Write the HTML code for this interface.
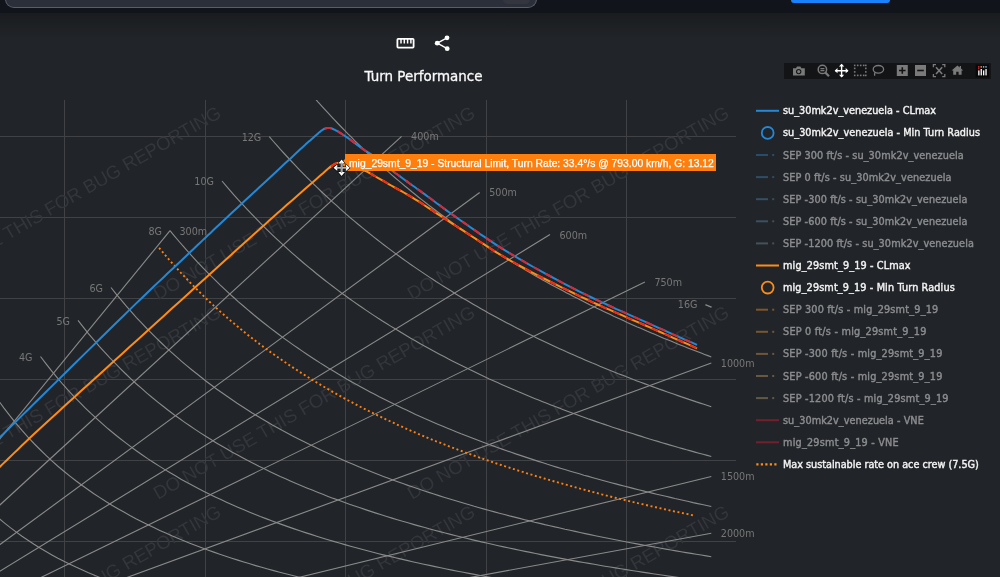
<!DOCTYPE html>
<html><head><meta charset="utf-8"><title>Turn Performance</title>
<style>
html,body{margin:0;padding:0;}
body{width:1000px;height:577px;overflow:hidden;position:relative;background:#212428;font-family:"DejaVu Sans",Verdana,sans-serif;}
.topbar{position:absolute;left:0;top:0;width:1000px;height:13px;background:#12141c;border-bottom:0px solid #1e2129;}
.shadow{position:absolute;left:0;top:13px;width:1000px;height:26px;background:linear-gradient(to bottom,rgba(0,0,0,0.22),rgba(0,0,0,0));}
.topbox{position:absolute;left:5px;top:-11px;width:530px;height:18px;border:1px solid #595e6a;border-top:none;border-radius:0 0 9px 9px;background:#2b2f3a;}
.pill{position:absolute;left:503px;top:-5.5px;width:27px;height:9px;border-radius:5px;background:#33363e;}
.bluebtn{position:absolute;left:791px;top:-6px;width:99px;height:9px;border-radius:3px;background:#1a80fb;}
.chart{position:absolute;left:0;top:0;}
.legend{position:absolute;left:740px;top:90px;}
.title{position:absolute;left:0;top:68.5px;-webkit-text-stroke:0.3px #fafafa;width:847px;text-align:center;color:#fafafa;font-size:13.45px;line-height:16px;}
.tip{position:absolute;left:345px;top:154.2px;width:371px;height:16.9px;background:#ff7f0e;}
.tiptext{position:absolute;left:349px;top:155.6px;color:#fff;font-family:"Liberation Sans",Arial,sans-serif;font-size:10.33px;line-height:15px;white-space:nowrap;-webkit-text-stroke:0.25px #fff;}
.modebar{position:absolute;left:784px;top:63px;width:207px;height:15.6px;background:#131416;}
</style></head>
<body>
<div class="shadow"></div>
<div class="topbar"></div>
<div class="topbox"></div>
<div class="pill"></div>
<div class="bluebtn"></div>

<svg class="chart" width="1000" height="577" viewBox="0 0 1000 577">
  <defs><clipPath id="pc"><rect x="0" y="100" width="736" height="477"/></clipPath></defs>
  <g clip-path="url(#pc)">
    <g stroke="#404246" stroke-width="1" shape-rendering="crispEdges"><line x1="64.5" y1="100" x2="64.5" y2="577"/><line x1="205" y1="100" x2="205" y2="577"/><line x1="345.5" y1="100" x2="345.5" y2="577"/><line x1="486" y1="100" x2="486" y2="577"/><line x1="626.5" y1="100" x2="626.5" y2="577"/><line x1="0" y1="136.5" x2="736" y2="136.5"/><line x1="0" y1="217.5" x2="736" y2="217.5"/><line x1="0" y1="298.5" x2="736" y2="298.5"/><line x1="0" y1="379.5" x2="736" y2="379.5"/><line x1="0" y1="460.5" x2="736" y2="460.5"/><line x1="0" y1="541.5" x2="736" y2="541.5"/></g>
    <g fill="#33363b" font-family="Liberation Sans, Arial, sans-serif" font-size="18.6"><text transform="translate(-96,300.4) rotate(-30)">DO NOT USE THIS FOR BUG REPORTING</text><text transform="translate(158,300.4) rotate(-30)">DO NOT USE THIS FOR BUG REPORTING</text><text transform="translate(412,300.4) rotate(-30)">DO NOT USE THIS FOR BUG REPORTING</text><text transform="translate(-96,499.9) rotate(-30)">DO NOT USE THIS FOR BUG REPORTING</text><text transform="translate(158,499.9) rotate(-30)">DO NOT USE THIS FOR BUG REPORTING</text><text transform="translate(412,499.9) rotate(-30)">DO NOT USE THIS FOR BUG REPORTING</text><text transform="translate(-96,699.4) rotate(-30)">DO NOT USE THIS FOR BUG REPORTING</text><text transform="translate(158,699.4) rotate(-30)">DO NOT USE THIS FOR BUG REPORTING</text><text transform="translate(412,699.4) rotate(-30)">DO NOT USE THIS FOR BUG REPORTING</text></g>
    <g stroke="#8a8a8a" stroke-width="1.12" fill="none"><polyline points="-2,517.6 4,522.6 10,527.4 16,531.9 22,536.2 28,540.3 34,544.3 40,548 46,551.5 51.9,554.9 57.9,558.2 63.9,561.3 69.9,564.2 75.9,567.1 81.9,569.8 87.9,572.5 93.9,575 99.9,577.4 105.9,579.8 111.9,582 117.9,584.2 123.9,586.3 129.9,588.3 135.9,590.3 141.9,592.2 147.9,594 153.8,595.8 159.8,597.5 165.8,599.2 171.8,600.8 177.8,602.4 183.8,603.9 189.8,605.3 195.8,606.8 201.8,608.1 207.8,609.5 213.8,610.8 219.8,612.1 225.8,613.3 231.8,614.5 237.8,615.7 243.8,616.8 249.8,618 255.7,619 261.7,620.1 267.7,621.1 273.7,622.1 279.7,623.1 285.7,624.1 291.7,625 297.7,625.9 303.7,626.8 309.7,627.7 315.7,628.6 321.7,629.4 327.7,630.2 333.7,631 339.7,631.8 345.7,632.5 351.7,633.3 357.6,634 363.6,634.7 369.6,635.5 375.6,636.1 381.6,636.8 387.6,637.5 393.6,638.1 399.6,638.8 405.6,639.4 411.6,640 417.6,640.6 423.6,641.2 429.6,641.8 435.6,642.3 441.6,642.9 447.6,643.4 453.6,644 459.5,644.5 465.5,645 471.5,645.5 477.5,646 483.5,646.5 489.5,647 495.5,647.5 501.5,647.9 507.5,648.4 513.5,648.9 519.5,649.3 525.5,649.7 531.5,650.2 537.5,650.6 543.5,651 549.5,651.4 555.5,651.8 561.4,652.2 567.4,652.6 573.4,653 579.4,653.4 585.4,653.8 591.4,654.1 597.4,654.5 603.4,654.9 609.4,655.2 615.4,655.6 621.4,655.9 627.4,656.2 633.4,656.6 639.4,656.9 645.4,657.2 651.4,657.5 657.4,657.9 663.3,658.2 669.3,658.5 675.3,658.8 681.3,659.1 687.3,659.4 693.3,659.7 699.3,659.9 705.3,660.2 711.3,660.5"/><polyline points="-2,399.9 4,408.1 10,415.9 16,423.3 22,430.4 28,437.1 34,443.5 40,449.5 46,455.3 51.9,460.9 57.9,466.2 63.9,471.2 69.9,476.1 75.9,480.8 81.9,485.2 87.9,489.5 93.9,493.7 99.9,497.6 105.9,501.5 111.9,505.2 117.9,508.7 123.9,512.1 129.9,515.5 135.9,518.7 141.9,521.7 147.9,524.7 153.8,527.6 159.8,530.4 165.8,533.1 171.8,535.8 177.8,538.3 183.8,540.8 189.8,543.2 195.8,545.5 201.8,547.8 207.8,550 213.8,552.1 219.8,554.2 225.8,556.2 231.8,558.2 237.8,560.1 243.8,562 249.8,563.8 255.7,565.6 261.7,567.3 267.7,569 273.7,570.6 279.7,572.2 285.7,573.8 291.7,575.3 297.7,576.8 303.7,578.3 309.7,579.7 315.7,581.1 321.7,582.5 327.7,583.8 333.7,585.1 339.7,586.4 345.7,587.6 351.7,588.9 357.6,590.1 363.6,591.2 369.6,592.4 375.6,593.5 381.6,594.6 387.6,595.7 393.6,596.7 399.6,597.8 405.6,598.8 411.6,599.8 417.6,600.8 423.6,601.7 429.6,602.7 435.6,603.6 441.6,604.5 447.6,605.4 453.6,606.3 459.5,607.2 465.5,608 471.5,608.8 477.5,609.7 483.5,610.5 489.5,611.2 495.5,612 501.5,612.8 507.5,613.5 513.5,614.3 519.5,615 525.5,615.7 531.5,616.4 537.5,617.1 543.5,617.8 549.5,618.5 555.5,619.1 561.4,619.8 567.4,620.4 573.4,621 579.4,621.7 585.4,622.3 591.4,622.9 597.4,623.5 603.4,624.1 609.4,624.6 615.4,625.2 621.4,625.8 627.4,626.3 633.4,626.9 639.4,627.4 645.4,627.9 651.4,628.4 657.4,629 663.3,629.5 669.3,630 675.3,630.5 681.3,631 687.3,631.4 693.3,631.9 699.3,632.4 705.3,632.8 711.3,633.3"/><polyline points="40.5,356.5 46.1,363.9 51.8,371.1 57.4,377.9 63,384.5 68.7,390.8 74.3,396.8 80,402.7 85.6,408.3 91.2,413.7 96.9,418.9 102.5,423.9 108.1,428.8 113.8,433.5 119.4,438 125.1,442.4 130.7,446.6 136.3,450.7 142,454.7 147.6,458.6 153.2,462.3 158.9,465.9 164.5,469.4 170.2,472.8 175.8,476.1 181.4,479.4 187.1,482.5 192.7,485.5 198.3,488.5 204,491.4 209.6,494.2 215.2,496.9 220.9,499.6 226.5,502.2 232.2,504.7 237.8,507.2 243.4,509.6 249.1,511.9 254.7,514.2 260.3,516.5 266,518.6 271.6,520.8 277.3,522.9 282.9,524.9 288.5,526.9 294.2,528.9 299.8,530.8 305.4,532.6 311.1,534.4 316.7,536.2 322.3,538 328,539.7 333.6,541.4 339.3,543 344.9,544.6 350.5,546.2 356.2,547.8 361.8,549.3 367.4,550.8 373.1,552.2 378.7,553.7 384.4,555.1 390,556.4 395.6,557.8 401.3,559.1 406.9,560.4 412.5,561.7 418.2,563 423.8,564.2 429.5,565.4 435.1,566.6 440.7,567.8 446.4,569 452,570.1 457.6,571.2 463.3,572.3 468.9,573.4 474.5,574.4 480.2,575.5 485.8,576.5 491.5,577.5 497.1,578.5 502.7,579.5 508.4,580.5 514,581.4 519.6,582.3 525.3,583.3 530.9,584.2 536.6,585.1 542.2,585.9 547.8,586.8 553.5,587.7 559.1,588.5 564.7,589.3 570.4,590.2 576,591 581.6,591.8 587.3,592.5 592.9,593.3 598.6,594.1 604.2,594.8 609.8,595.6 615.5,596.3 621.1,597 626.7,597.7 632.4,598.4 638,599.1 643.7,599.8 649.3,600.5 654.9,601.2 660.6,601.8 666.2,602.5 671.8,603.1 677.5,603.7 683.1,604.4 688.8,605 694.4,605.6 700,606.2 705.7,606.8 711.3,607.4"/><polyline points="78,320.4 83.3,327.2 88.6,333.8 94,340.1 99.3,346.3 104.6,352.2 109.9,357.9 115.3,363.4 120.6,368.8 125.9,374 131.2,379.1 136.5,384 141.9,388.7 147.2,393.3 152.5,397.8 157.8,402.1 163.1,406.3 168.5,410.5 173.8,414.5 179.1,418.3 184.4,422.1 189.8,425.8 195.1,429.4 200.4,432.9 205.7,436.3 211,439.6 216.4,442.9 221.7,446 227,449.1 232.3,452.2 237.7,455.1 243,458 248.3,460.8 253.6,463.5 258.9,466.2 264.3,468.8 269.6,471.4 274.9,473.9 280.2,476.4 285.6,478.8 290.9,481.2 296.2,483.5 301.5,485.7 306.8,487.9 312.2,490.1 317.5,492.2 322.8,494.3 328.1,496.4 333.4,498.4 338.8,500.3 344.1,502.3 349.4,504.2 354.7,506 360.1,507.8 365.4,509.6 370.7,511.4 376,513.1 381.3,514.8 386.7,516.5 392,518.1 397.3,519.7 402.6,521.3 408,522.8 413.3,524.4 418.6,525.9 423.9,527.3 429.2,528.8 434.6,530.2 439.9,531.6 445.2,533 450.5,534.4 455.9,535.7 461.2,537 466.5,538.3 471.8,539.6 477.1,540.9 482.5,542.1 487.8,543.3 493.1,544.5 498.4,545.7 503.7,546.9 509.1,548 514.4,549.1 519.7,550.3 525,551.4 530.4,552.4 535.7,553.5 541,554.6 546.3,555.6 551.6,556.6 557,557.6 562.3,558.6 567.6,559.6 572.9,560.6 578.3,561.6 583.6,562.5 588.9,563.4 594.2,564.3 599.5,565.3 604.9,566.2 610.2,567 615.5,567.9 620.8,568.8 626.2,569.6 631.5,570.5 636.8,571.3 642.1,572.1 647.4,572.9 652.8,573.7 658.1,574.5 663.4,575.3 668.7,576.1 674,576.8 679.4,577.6 684.7,578.3 690,579.1 695.3,579.8 700.7,580.5 706,581.2 711.3,581.9"/><polyline points="111,287.5 116,293.8 121.1,299.9 126.1,305.9 131.2,311.7 136.2,317.3 141.3,322.7 146.3,328 151.4,333.2 156.4,338.2 161.4,343 166.5,347.8 171.5,352.4 176.6,356.9 181.6,361.3 186.7,365.6 191.7,369.8 196.8,373.8 201.8,377.8 206.8,381.7 211.9,385.5 216.9,389.2 222,392.8 227,396.3 232.1,399.8 237.1,403.2 242.2,406.5 247.2,409.7 252.2,412.9 257.3,416 262.3,419 267.4,422 272.4,424.9 277.5,427.7 282.5,430.5 287.6,433.2 292.6,435.9 297.6,438.5 302.7,441.1 307.7,443.6 312.8,446.1 317.8,448.5 322.9,450.9 327.9,453.3 333,455.6 338,457.8 343,460 348.1,462.2 353.1,464.3 358.2,466.4 363.2,468.5 368.3,470.5 373.3,472.5 378.4,474.5 383.4,476.4 388.4,478.3 393.5,480.2 398.5,482 403.6,483.8 408.6,485.6 413.7,487.3 418.7,489 423.8,490.7 428.8,492.4 433.9,494 438.9,495.6 443.9,497.2 449,498.8 454,500.3 459.1,501.8 464.1,503.3 469.2,504.8 474.2,506.3 479.3,507.7 484.3,509.1 489.3,510.5 494.4,511.9 499.4,513.2 504.5,514.5 509.5,515.9 514.6,517.1 519.6,518.4 524.7,519.7 529.7,520.9 534.7,522.2 539.8,523.4 544.8,524.6 549.9,525.7 554.9,526.9 560,528 565,529.2 570.1,530.3 575.1,531.4 580.1,532.5 585.2,533.6 590.2,534.6 595.3,535.7 600.3,536.7 605.4,537.7 610.4,538.7 615.5,539.7 620.5,540.7 625.5,541.7 630.6,542.7 635.6,543.6 640.7,544.6 645.7,545.5 650.8,546.4 655.8,547.3 660.9,548.2 665.9,549.1 670.9,550 676,550.9 681,551.7 686.1,552.6 691.1,553.4 696.2,554.2 701.2,555 706.3,555.9 711.3,556.7"/><polyline points="170,230.6 174.5,236.1 179.1,241.5 183.6,246.7 188.2,251.9 192.7,256.9 197.3,261.8 201.8,266.6 206.4,271.3 210.9,275.9 215.5,280.4 220,284.8 224.6,289.1 229.1,293.3 233.7,297.5 238.2,301.6 242.8,305.5 247.3,309.4 251.9,313.3 256.4,317 261,320.7 265.5,324.3 270.1,327.9 274.6,331.3 279.2,334.7 283.7,338.1 288.3,341.4 292.8,344.6 297.4,347.8 301.9,350.9 306.5,354 311,357 315.6,360 320.1,362.9 324.7,365.7 329.2,368.6 333.8,371.3 338.3,374.1 342.9,376.7 347.4,379.4 351.9,382 356.5,384.5 361,387 365.6,389.5 370.1,391.9 374.7,394.3 379.2,396.7 383.8,399 388.3,401.3 392.9,403.6 397.4,405.8 402,408 406.5,410.1 411.1,412.3 415.6,414.4 420.2,416.4 424.7,418.5 429.3,420.5 433.8,422.4 438.4,424.4 442.9,426.3 447.5,428.2 452,430.1 456.6,431.9 461.1,433.8 465.7,435.6 470.2,437.3 474.8,439.1 479.3,440.8 483.9,442.5 488.4,444.2 493,445.9 497.5,447.5 502.1,449.1 506.6,450.7 511.2,452.3 515.7,453.9 520.3,455.4 524.8,456.9 529.4,458.4 533.9,459.9 538.4,461.4 543,462.8 547.5,464.3 552.1,465.7 556.6,467.1 561.2,468.5 565.7,469.8 570.3,471.2 574.8,472.5 579.4,473.8 583.9,475.2 588.5,476.4 593,477.7 597.6,479 602.1,480.2 606.7,481.5 611.2,482.7 615.8,483.9 620.3,485.1 624.9,486.3 629.4,487.4 634,488.6 638.5,489.7 643.1,490.9 647.6,492 652.2,493.1 656.7,494.2 661.3,495.3 665.8,496.3 670.4,497.4 674.9,498.5 679.5,499.5 684,500.5 688.6,501.5 693.1,502.6 697.7,503.6 702.2,504.5 706.8,505.5 711.3,506.5"/><polyline points="222,181 226.1,185.8 230.2,190.6 234.3,195.3 238.4,199.9 242.6,204.4 246.7,208.8 250.8,213.2 254.9,217.4 259,221.6 263.1,225.8 267.2,229.8 271.3,233.8 275.5,237.8 279.6,241.6 283.7,245.4 287.8,249.1 291.9,252.8 296,256.4 300.1,260 304.2,263.5 308.3,266.9 312.5,270.3 316.6,273.7 320.7,277 324.8,280.2 328.9,283.4 333,286.5 337.1,289.6 341.2,292.7 345.4,295.7 349.5,298.7 353.6,301.6 357.7,304.5 361.8,307.3 365.9,310.1 370,312.9 374.1,315.6 378.2,318.3 382.4,320.9 386.5,323.5 390.6,326.1 394.7,328.6 398.8,331.1 402.9,333.6 407,336 411.1,338.4 415.3,340.8 419.4,343.2 423.5,345.5 427.6,347.8 431.7,350 435.8,352.2 439.9,354.4 444,356.6 448.1,358.8 452.3,360.9 456.4,363 460.5,365 464.6,367.1 468.7,369.1 472.8,371.1 476.9,373.1 481,375 485.2,376.9 489.3,378.9 493.4,380.7 497.5,382.6 501.6,384.4 505.7,386.2 509.8,388 513.9,389.8 518,391.6 522.2,393.3 526.3,395 530.4,396.7 534.5,398.4 538.6,400.1 542.7,401.7 546.8,403.3 550.9,404.9 555.1,406.5 559.2,408.1 563.3,409.7 567.4,411.2 571.5,412.7 575.6,414.2 579.7,415.7 583.8,417.2 587.9,418.7 592.1,420.1 596.2,421.6 600.3,423 604.4,424.4 608.5,425.8 612.6,427.2 616.7,428.5 620.8,429.9 625,431.2 629.1,432.5 633.2,433.8 637.3,435.1 641.4,436.4 645.5,437.7 649.6,439 653.7,440.2 657.8,441.4 662,442.7 666.1,443.9 670.2,445.1 674.3,446.3 678.4,447.5 682.5,448.6 686.6,449.8 690.7,450.9 694.9,452.1 699,453.2 703.1,454.3 707.2,455.4 711.3,456.5"/><polyline points="269.3,136.7 273,141 276.7,145.2 280.4,149.4 284.2,153.5 287.9,157.5 291.6,161.5 295.3,165.4 299,169.3 302.7,173.1 306.4,176.9 310.2,180.6 313.9,184.3 317.6,187.9 321.3,191.5 325,195 328.7,198.4 332.4,201.9 336.2,205.2 339.9,208.6 343.6,211.8 347.3,215.1 351,218.3 354.7,221.4 358.4,224.5 362.2,227.6 365.9,230.6 369.6,233.6 373.3,236.6 377,239.5 380.7,242.4 384.4,245.3 388.2,248.1 391.9,250.9 395.6,253.6 399.3,256.3 403,259 406.7,261.6 410.4,264.3 414.2,266.9 417.9,269.4 421.6,271.9 425.3,274.4 429,276.9 432.7,279.3 436.4,281.8 440.2,284.1 443.9,286.5 447.6,288.8 451.3,291.1 455,293.4 458.7,295.7 462.4,297.9 466.2,300.1 469.9,302.3 473.6,304.5 477.3,306.6 481,308.7 484.7,310.8 488.4,312.9 492.2,314.9 495.9,316.9 499.6,318.9 503.3,320.9 507,322.9 510.7,324.8 514.4,326.8 518.2,328.7 521.9,330.6 525.6,332.4 529.3,334.3 533,336.1 536.7,337.9 540.4,339.7 544.2,341.5 547.9,343.2 551.6,345 555.3,346.7 559,348.4 562.7,350.1 566.4,351.8 570.2,353.4 573.9,355.1 577.6,356.7 581.3,358.3 585,359.9 588.7,361.5 592.4,363.1 596.2,364.6 599.9,366.2 603.6,367.7 607.3,369.2 611,370.7 614.7,372.2 618.4,373.7 622.2,375.1 625.9,376.6 629.6,378 633.3,379.5 637,380.9 640.7,382.3 644.4,383.6 648.2,385 651.9,386.4 655.6,387.7 659.3,389.1 663,390.4 666.7,391.7 670.4,393 674.2,394.3 677.9,395.6 681.6,396.9 685.3,398.1 689,399.4 692.7,400.6 696.4,401.9 700.2,403.1 703.9,404.3 707.6,405.5 711.3,406.7"/><polyline points="311,93.9 314.4,97.8 317.7,101.6 321.1,105.3 324.5,109.1 327.8,112.7 331.2,116.4 334.5,119.9 337.9,123.5 341.3,127 344.6,130.4 348,133.9 351.4,137.2 354.7,140.6 358.1,143.9 361.5,147.1 364.8,150.3 368.2,153.5 371.5,156.7 374.9,159.8 378.3,162.8 381.6,165.9 385,168.9 388.4,171.9 391.7,174.8 395.1,177.7 398.5,180.6 401.8,183.4 405.2,186.3 408.6,189 411.9,191.8 415.3,194.5 418.6,197.2 422,199.9 425.4,202.5 428.7,205.1 432.1,207.7 435.5,210.3 438.8,212.8 442.2,215.3 445.6,217.8 448.9,220.2 452.3,222.7 455.6,225.1 459,227.5 462.4,229.8 465.7,232.2 469.1,234.5 472.5,236.8 475.8,239 479.2,241.3 482.6,243.5 485.9,245.7 489.3,247.9 492.6,250 496,252.2 499.4,254.3 502.7,256.4 506.1,258.5 509.5,260.5 512.8,262.6 516.2,264.6 519.6,266.6 522.9,268.6 526.3,270.6 529.7,272.5 533,274.5 536.4,276.4 539.7,278.3 543.1,280.2 546.5,282 549.8,283.9 553.2,285.7 556.6,287.5 559.9,289.3 563.3,291.1 566.7,292.9 570,294.6 573.4,296.4 576.7,298.1 580.1,299.8 583.5,301.5 586.8,303.2 590.2,304.9 593.6,306.5 596.9,308.2 600.3,309.8 603.7,311.4 607,313 610.4,314.6 613.7,316.2 617.1,317.7 620.5,319.3 623.8,320.8 627.2,322.4 630.6,323.9 633.9,325.4 637.3,326.9 640.7,328.3 644,329.8 647.4,331.3 650.8,332.7 654.1,334.1 657.5,335.6 660.8,337 664.2,338.4 667.6,339.8 670.9,341.1 674.3,342.5 677.7,343.9 681,345.2 684.4,346.6 687.8,347.9 691.1,349.2 694.5,350.5 697.8,351.8 701.2,353.1 704.6,354.4 707.9,355.6 711.3,356.9"/><polyline points="705.5,304.7 705.5,304.7 705.6,304.7 705.6,304.7 705.7,304.7 705.7,304.8 705.8,304.8 705.8,304.8 705.9,304.8 705.9,304.9 706,304.9 706,304.9 706.1,304.9 706.1,304.9 706.2,305 706.2,305 706.3,305 706.3,305 706.4,305 706.4,305.1 706.5,305.1 706.5,305.1 706.6,305.1 706.6,305.1 706.7,305.2 706.7,305.2 706.8,305.2 706.8,305.2 706.9,305.3 706.9,305.3 707,305.3 707,305.3 707.1,305.3 707.1,305.4 707.2,305.4 707.2,305.4 707.3,305.4 707.3,305.4 707.4,305.5 707.4,305.5 707.4,305.5 707.5,305.5 707.5,305.5 707.6,305.6 707.6,305.6 707.7,305.6 707.7,305.6 707.8,305.7 707.8,305.7 707.9,305.7 707.9,305.7 708,305.7 708,305.8 708.1,305.8 708.1,305.8 708.2,305.8 708.2,305.8 708.3,305.9 708.3,305.9 708.4,305.9 708.4,305.9 708.5,305.9 708.5,306 708.6,306 708.6,306 708.7,306 708.7,306.1 708.8,306.1 708.8,306.1 708.9,306.1 708.9,306.1 709,306.2 709,306.2 709.1,306.2 709.1,306.2 709.2,306.2 709.2,306.3 709.3,306.3 709.3,306.3 709.4,306.3 709.4,306.3 709.4,306.4 709.5,306.4 709.5,306.4 709.6,306.4 709.6,306.4 709.7,306.5 709.7,306.5 709.8,306.5 709.8,306.5 709.9,306.6 709.9,306.6 710,306.6 710,306.6 710.1,306.6 710.1,306.7 710.2,306.7 710.2,306.7 710.3,306.7 710.3,306.7 710.4,306.8 710.4,306.8 710.5,306.8 710.5,306.8 710.6,306.8 710.6,306.9 710.7,306.9 710.7,306.9 710.8,306.9 710.8,306.9 710.9,307 710.9,307 711,307 711,307 711.1,307.1 711.1,307.1 711.2,307.1 711.2,307.1 711.3,307.1 711.3,307.2"/><line x1="-2" y1="441.1" x2="170" y2="230.7"/><line x1="-2" y1="506.7" x2="401.6" y2="136.4"/><line x1="-2" y1="546" x2="479.7" y2="192.5"/><line x1="-2" y1="572.3" x2="550" y2="234.6"/><line x1="-2" y1="598.5" x2="644.9" y2="282"/><line x1="-2" y1="624.8" x2="711.3" y2="363"/><line x1="-2" y1="651" x2="711.3" y2="476.5"/><line x1="-2" y1="664.1" x2="711.3" y2="533.2"/></g>
    <polyline points="159.1,247.8 162.7,252.1 166.3,256.4 169.9,260.5 173.5,264.6 177.1,268.6 180.7,272.6 184.3,276.4 187.9,280.2 191.5,284 195.1,287.6 198.7,291.2 202.3,294.8 205.9,298.3 209.5,301.7 213.1,305.1 216.7,308.4 220.3,311.6 223.9,314.8 227.5,318 231.1,321.1 234.7,324.1 238.3,327.1 241.9,330.1 245.5,333 249.1,335.9 252.7,338.7 256.3,341.5 259.9,344.2 263.5,346.9 267.1,349.6 270.7,352.2 274.3,354.7 277.9,357.3 281.5,359.8 285.1,362.3 288.7,364.7 292.3,367.1 295.9,369.4 299.5,371.8 303.1,374.1 306.7,376.3 310.3,378.6 313.9,380.8 317.5,383 321.1,385.1 324.7,387.2 328.3,389.3 331.9,391.4 335.5,393.4 339.1,395.4 342.7,397.4 346.3,399.4 349.9,401.3 353.5,403.2 357.1,405.1 360.7,407 364.3,408.8 367.9,410.6 371.5,412.4 375.1,414.2 378.7,415.9 382.3,417.6 385.9,419.4 389.5,421 393.1,422.7 396.7,424.4 400.3,426 403.9,427.6 407.5,429.2 411.1,430.8 414.7,432.3 418.3,433.9 421.9,435.4 425.5,436.9 429.1,438.4 432.7,439.8 436.3,441.3 439.9,442.7 443.5,444.2 447.1,445.6 450.7,447 454.3,448.3 457.9,449.7 461.5,451 465.1,452.4 468.7,453.7 472.3,455 475.9,456.3 479.5,457.6 483.1,458.8 486.7,460.1 490.3,461.3 493.9,462.6 497.5,463.8 501.1,465 504.7,466.2 508.3,467.3 511.9,468.5 515.5,469.7 519.1,470.8 522.7,471.9 526.3,473.1 529.9,474.2 533.5,475.3 537.1,476.4 540.7,477.4 544.3,478.5 547.9,479.6 551.5,480.6 555.1,481.7 558.7,482.7 562.3,483.7 565.9,484.7 569.5,485.7 573.1,486.7 576.7,487.7 580.3,488.7 583.9,489.6 587.5,490.6 591.1,491.6 594.7,492.5 598.3,493.4 601.9,494.4 605.5,495.3 609.1,496.2 612.7,497.1 616.3,498 619.9,498.9 623.5,499.7 627.1,500.6 630.7,501.5 634.3,502.3 637.9,503.2 641.5,504 645.1,504.8 648.7,505.7 652.3,506.5 655.9,507.3 659.5,508.1 663.1,508.9 666.7,509.7 670.3,510.5 673.9,511.3 677.5,512 681.1,512.8 684.7,513.6 688.3,514.3 691.9,515.1 695.5,515.8" fill="none" stroke="#ff7f0e" stroke-width="1.9" stroke-dasharray="2 2.6"/>
    <path d="M-2,468.5 L-2,468.5 L-2.2,468.7 L-2.5,469 L-2.9,469.4 L-3.2,469.7 L-3.5,470 L-3.6,470.1 L-3.6,470.1 L-3.2,469.8 L-2.6,469.1 L-1.5,468.1 L0,466.7 L1.8,464.9 L3.9,462.9 L6.2,460.7 L8.7,458.3 L11.4,455.6 L14.5,452.6 L17.9,449.4 L21.6,445.8 L25.6,442 L30,437.8 L34.8,433.3 L40,428.5 L45.7,423.2 L52,417.4 L58.9,411.2 L66.1,404.6 L73.7,397.7 L81.5,390.6 L89.6,383.3 L97.7,375.9 L105.9,368.4 L114.1,361 L122.2,353.7 L130,346.6 L137.9,339.4 L146.1,331.9 L154.6,324.3 L163.2,316.5 L171.8,308.6 L180.3,300.9 L188.8,293.2 L196.9,285.8 L204.8,278.7 L212.2,272 L219.1,265.7 L225.4,260 L231,254.9 L236.1,250.3 L240.6,246.3 L244.7,242.6 L248.4,239.2 L252,236 L255.3,232.9 L258.7,230 L262,227 L265.5,223.9 L269.2,220.6 L273.2,217 L277.6,213.1 L282.3,209 L287.2,204.6 L292.3,200.2 L297.3,195.7 L302.4,191.3 L307.2,187 L311.9,183 L316.2,179.2 L320,175.8 L323.3,173 L326,170.6 L328,168.8 L329.4,167.6 L330.3,166.8 L330.8,166.4 L330.9,166.3 L330.8,166.5 L330.5,166.8 L330.1,167.1 L329.7,167.5 L329.4,167.8 L329.3,167.9 L329.4,167.8 L329.7,167.6 L330,167.3 L330.3,167.1 L330.6,166.8 L330.9,166.6 L331.2,166.3 L331.5,166.1 L331.8,165.9 L332.1,165.6 L332.4,165.4 L332.7,165.2 L333,165 L333.3,164.8 L333.6,164.6 L333.9,164.4 L334.3,164.2 L334.6,164.1 L334.9,163.9 L335.2,163.7 L335.6,163.6 L335.9,163.5 L336.3,163.4 L336.6,163.3 L337,163.2 L337.4,163.1 L337.7,163.1 L338.1,163.1 L338.5,163.1 L338.9,163.1 L339.2,163.1 L339.7,163.1 L340.1,163.2 L340.5,163.3 L341,163.4 L341.5,163.5 L342,163.6 L342.6,163.8 L343.2,163.9 L343.8,164.2 L344.4,164.4 L345.1,164.7 L345.8,164.9 L346.5,165.2 L347.2,165.5 L347.9,165.8 L348.6,166 L349.3,166.3 L350,166.5 L350.7,166.7 L351.3,166.9 L352,167.1 L352.7,167.3 L353.3,167.5 L354,167.7 L354.6,167.9 L355.3,168 L356,168.2 L356.6,168.4 L357.3,168.6 L358,168.8 L358.6,169 L359.2,169.1 L359.7,169.2 L360.2,169.2 L360.6,169.3 L361.2,169.4 L361.7,169.5 L362.4,169.7 L363.1,169.9 L364,170.3 L365.1,170.8 L366.4,171.4 L367.9,172.2 L369.6,173.1 L371.5,174.1 L373.5,175.3 L375.6,176.5 L377.8,177.8 L380.1,179.1 L382.4,180.4 L384.7,181.7 L386.9,183 L389.1,184.3 L391.2,185.5 L393.2,186.6 L395,187.6 L396.8,188.6 L398.5,189.5 L400.2,190.5 L401.9,191.4 L403.8,192.5 L405.7,193.6 L407.8,194.8 L410,196.1 L412.5,197.6 L415.2,199.3 L418.2,201.2 L421.4,203.2 L424.8,205.5 L428.3,207.8 L432,210.2 L435.8,212.8 L439.8,215.4 L443.8,218 L447.8,220.7 L451.9,223.3 L455.9,226 L460,228.6 L464,231.2 L468.1,233.9 L472.1,236.5 L476.2,239.2 L480.3,242 L484.6,244.7 L488.8,247.5 L493.2,250.3 L497.7,253.1 L502.3,255.9 L507.1,258.7 L512,261.5 L517.1,264.3 L522.4,267.2 L527.8,270.2 L533.4,273.1 L539.1,276.1 L544.9,279 L550.8,282 L556.6,284.9 L562.5,287.8 L568.4,290.7 L574.2,293.5 L580,296.3 L585.8,299 L591.7,301.8 L597.7,304.5 L603.8,307.3 L609.9,309.9 L615.9,312.6 L621.9,315.2 L627.8,317.8 L633.5,320.3 L639,322.7 L644.3,325 L649.3,327.2 L654.2,329.4 L659.1,331.5 L663.9,333.7 L668.6,335.7 L673.1,337.8 L677.5,339.7 L681.6,341.5 L685.4,343.2 L688.9,344.7 L692.1,346.1 L694.8,347.3 L697,348.3" fill="none" stroke="#ff8c14" stroke-width="2" stroke-linejoin="round"/>
    <path d="M329.4,167.8 L329.6,167.7 L329.8,167.5 L330,167.3 L330.3,167 L330.6,166.8 L330.9,166.5 L331.3,166.2 L331.6,166 L332,165.7 L332.3,165.4 L332.7,165.2 L333,165 L333.3,164.8 L333.6,164.6 L333.9,164.4 L334.3,164.2 L334.6,164.1 L334.9,163.9 L335.2,163.7 L335.6,163.6 L335.9,163.5 L336.3,163.4 L336.6,163.3 L337,163.2 L337.4,163.1 L337.7,163.1 L338.1,163.1 L338.5,163.1 L338.9,163.1 L339.2,163.1 L339.7,163.1 L340.1,163.2 L340.5,163.3 L341,163.4 L341.5,163.5 L342,163.6 L342.6,163.8 L343.2,163.9 L343.8,164.2 L344.4,164.4 L345.1,164.7 L345.8,164.9 L346.5,165.2 L347.2,165.5 L347.9,165.8 L348.6,166 L349.3,166.3 L350,166.5 L350.7,166.7 L351.3,166.9 L352,167.1 L352.7,167.3 L353.3,167.5 L354,167.7 L354.6,167.9 L355.3,168 L356,168.2 L356.6,168.4 L357.3,168.6 L358,168.8 L358.6,169 L359.2,169.1 L359.7,169.2 L360.2,169.2 L360.6,169.3 L361.2,169.4 L361.7,169.5 L362.4,169.7 L363.1,169.9 L364,170.3 L365.1,170.8 L366.4,171.4 L367.9,172.2 L369.6,173.1 L371.5,174.1 L373.5,175.3 L375.6,176.5 L377.8,177.8 L380.1,179.1 L382.4,180.4 L384.7,181.7 L386.9,183 L389.1,184.3 L391.2,185.5 L393.2,186.6 L395,187.6 L396.8,188.6 L398.5,189.5 L400.2,190.5 L401.9,191.4 L403.8,192.5 L405.7,193.6 L407.8,194.8 L410,196.1 L412.5,197.6 L415.2,199.3 L418.2,201.2 L421.4,203.2 L424.8,205.5 L428.3,207.8 L432,210.2 L435.8,212.8 L439.8,215.4 L443.8,218 L447.8,220.7 L451.9,223.3 L455.9,226 L460,228.6 L464,231.2 L468.1,233.9 L472.1,236.5 L476.2,239.2 L480.3,242 L484.6,244.7 L488.8,247.5 L493.2,250.3 L497.7,253.1 L502.3,255.9 L507.1,258.7 L512,261.5 L517.1,264.3 L522.4,267.2 L527.8,270.2 L533.4,273.1 L539.1,276.1 L544.9,279 L550.8,282 L556.6,284.9 L562.5,287.8 L568.4,290.7 L574.2,293.5 L580,296.3 L585.8,299 L591.7,301.8 L597.7,304.5 L603.8,307.3 L609.9,309.9 L615.9,312.6 L621.9,315.2 L627.8,317.8 L633.5,320.3 L639,322.7 L644.3,325 L649.3,327.2 L654.2,329.4 L659.1,331.5 L663.9,333.7 L668.6,335.7 L673.1,337.8 L677.5,339.7 L681.6,341.5 L685.4,343.2 L688.9,344.7 L692.1,346.1 L694.8,347.3 L697,348.3" fill="none" stroke="#f52a10" stroke-width="2" stroke-dasharray="7 7" stroke-dashoffset="-2"/>
    <path d="M-2,439.2 L-2,439.2 L-2.2,439.4 L-2.5,439.7 L-2.8,440 L-3.1,440.3 L-3.3,440.5 L-3.5,440.6 L-3.4,440.5 L-3,440.2 L-2.4,439.6 L-1.4,438.6 L0,437.2 L1.7,435.5 L3.6,433.7 L5.6,431.7 L7.8,429.5 L10.3,427 L13.1,424.3 L16.2,421.3 L19.6,417.9 L23.4,414.1 L27.7,410 L32.3,405.4 L37.5,400.3 L43.4,394.5 L50.1,387.9 L57.5,380.6 L65.5,372.7 L73.8,364.5 L82.3,356.1 L91,347.6 L99.5,339.2 L107.9,331 L115.8,323.2 L123.3,316 L130,309.4 L136.2,303.4 L142.1,297.7 L147.8,292.2 L153.2,287.1 L158.4,282.1 L163.4,277.4 L168.2,272.8 L172.9,268.5 L177.4,264.2 L181.7,260.2 L185.9,256.2 L190,252.3 L193.8,248.7 L197.1,245.5 L200.1,242.7 L202.8,240.1 L205.4,237.7 L207.9,235.3 L210.5,232.9 L213.2,230.3 L216.1,227.6 L219.4,224.5 L223.1,221 L227.4,217 L232.4,212.3 L238.2,207 L244.5,201.1 L251.3,194.8 L258.3,188.3 L265.4,181.7 L272.4,175.2 L279.1,169 L285.4,163.1 L291.1,157.9 L296,153.3 L300,149.6 L303.1,146.8 L305.4,144.6 L307.1,143.1 L308.2,142.1 L308.9,141.4 L309.3,141.1 L309.5,140.9 L309.6,140.9 L309.6,140.9 L309.7,140.8 L310.1,140.6 L310.7,140 L311.5,139.3 L312.4,138.5 L313.2,137.8 L314,137 L314.8,136.3 L315.6,135.6 L316.4,134.9 L317.1,134.3 L317.8,133.7 L318.4,133.1 L319,132.6 L319.5,132.2 L319.9,131.9 L320.2,131.6 L320.5,131.4 L320.6,131.2 L320.8,131.1 L320.9,131 L320.9,131 L321,130.9 L321.1,130.9 L321.2,130.8 L321.3,130.7 L321.5,130.6 L321.7,130.4 L321.9,130.3 L322.2,130.1 L322.4,129.9 L322.7,129.8 L322.9,129.6 L323.2,129.4 L323.5,129.3 L323.8,129.1 L324,129 L324.3,128.8 L324.6,128.7 L324.9,128.6 L325.2,128.5 L325.5,128.4 L325.8,128.3 L326.1,128.3 L326.4,128.2 L326.7,128.1 L327,128.1 L327.3,128.1 L327.6,128 L327.9,128 L328.2,128 L328.5,128 L328.8,128 L329,128 L329.3,128 L329.6,128 L329.8,128 L330.1,128.1 L330.4,128.1 L330.7,128.2 L331.1,128.3 L331.4,128.4 L331.8,128.5 L332.2,128.7 L332.7,128.8 L333.1,129 L333.6,129.3 L334.1,129.5 L334.7,129.7 L335.2,130 L335.7,130.3 L336.2,130.6 L336.8,130.8 L337.3,131.1 L337.8,131.4 L338.3,131.7 L338.8,132 L339.3,132.3 L339.8,132.6 L340.3,132.9 L340.8,133.2 L341.3,133.6 L341.8,133.9 L342.3,134.2 L342.8,134.6 L343.3,134.9 L343.8,135.2 L344.3,135.5 L344.7,135.8 L345.2,136.1 L345.6,136.4 L346.1,136.7 L346.5,137 L346.9,137.3 L347.4,137.6 L347.8,137.9 L348.3,138.2 L348.7,138.6 L349.2,138.9 L349.7,139.2 L350.2,139.6 L350.7,140 L351.2,140.4 L351.7,140.7 L352.2,141.1 L352.7,141.5 L353.2,141.9 L353.7,142.3 L354.2,142.7 L354.7,143 L355.2,143.4 L355.7,143.8 L356.1,144.1 L356.6,144.4 L357,144.8 L357.5,145.1 L357.9,145.4 L358.4,145.8 L358.8,146.1 L359.3,146.4 L359.7,146.8 L360.2,147.1 L360.6,147.4 L361,147.7 L361.5,148 L361.9,148.4 L362.4,148.7 L362.8,149 L363.2,149.3 L363.7,149.6 L364.1,149.9 L364.6,150.2 L365,150.6 L365.5,150.9 L366,151.2 L366.5,151.5 L366.9,151.7 L367.2,151.9 L367.5,152.1 L367.9,152.3 L368.3,152.5 L368.7,152.7 L369.2,153 L369.8,153.4 L370.6,153.9 L371.4,154.5 L372.5,155.3 L373.7,156.2 L375.1,157.3 L376.5,158.4 L378.1,159.7 L379.8,161 L381.6,162.4 L383.5,163.9 L385.4,165.4 L387.4,166.9 L389.4,168.5 L391.4,170 L393.5,171.6 L395.6,173.2 L397.8,174.8 L400,176.4 L402.2,178 L404.5,179.7 L406.9,181.4 L409.3,183.2 L411.8,185 L414.4,186.8 L417,188.7 L419.7,190.6 L422.4,192.6 L425.2,194.6 L428,196.7 L430.9,198.8 L433.8,201 L436.7,203.2 L439.8,205.4 L442.9,207.7 L446.1,210.1 L449.4,212.5 L452.8,214.9 L456.3,217.4 L460,220 L463.8,222.6 L467.6,225.3 L471.6,228.1 L475.7,230.9 L479.8,233.8 L484.1,236.7 L488.5,239.6 L492.9,242.6 L497.5,245.6 L502.2,248.6 L507.1,251.6 L512,254.6 L517.1,257.6 L522.4,260.7 L527.8,263.8 L533.4,267 L539.1,270.2 L544.9,273.4 L550.8,276.5 L556.6,279.7 L562.5,282.8 L568.4,285.9 L574.2,288.9 L580,291.8 L585.8,294.7 L591.7,297.5 L597.7,300.4 L603.8,303.2 L609.9,306 L615.9,308.8 L621.9,311.4 L627.8,314.1 L633.5,316.6 L639,319.1 L644.3,321.4 L649.3,323.7 L654.2,325.9 L659.1,328.1 L663.9,330.2 L668.6,332.3 L673.1,334.4 L677.5,336.3 L681.6,338.1 L685.4,339.8 L688.9,341.3 L692.1,342.7 L694.8,343.9 L697,344.9" fill="none" stroke="#2688d4" stroke-width="2" stroke-linejoin="round"/>
    <path d="M324.6,128.7 L324.8,128.7 L325,128.6 L325.2,128.5 L325.5,128.5 L325.8,128.4 L326.2,128.3 L326.5,128.2 L326.9,128.2 L327.2,128.1 L327.6,128.1 L327.9,128 L328.2,128 L328.5,128 L328.8,128 L329,128 L329.3,128 L329.6,128 L329.8,128 L330.1,128.1 L330.4,128.1 L330.7,128.2 L331.1,128.3 L331.4,128.4 L331.8,128.5 L332.2,128.7 L332.7,128.8 L333.1,129 L333.6,129.3 L334.1,129.5 L334.7,129.7 L335.2,130 L335.7,130.3 L336.2,130.6 L336.8,130.8 L337.3,131.1 L337.8,131.4 L338.3,131.7 L338.8,132 L339.3,132.3 L339.8,132.6 L340.3,132.9 L340.8,133.2 L341.3,133.6 L341.8,133.9 L342.3,134.2 L342.8,134.6 L343.3,134.9 L343.8,135.2 L344.3,135.5 L344.7,135.8 L345.2,136.1 L345.6,136.4 L346.1,136.7 L346.5,137 L346.9,137.3 L347.4,137.6 L347.8,137.9 L348.3,138.2 L348.7,138.6 L349.2,138.9 L349.7,139.2 L350.2,139.6 L350.7,140 L351.2,140.4 L351.7,140.7 L352.2,141.1 L352.7,141.5 L353.2,141.9 L353.7,142.3 L354.2,142.7 L354.7,143 L355.2,143.4 L355.7,143.8 L356.1,144.1 L356.6,144.4 L357,144.8 L357.5,145.1 L357.9,145.4 L358.4,145.8 L358.8,146.1 L359.3,146.4 L359.7,146.8 L360.2,147.1 L360.6,147.4 L361,147.7 L361.5,148 L361.9,148.4 L362.4,148.7 L362.8,149 L363.2,149.3 L363.7,149.6 L364.1,149.9 L364.6,150.2 L365,150.6 L365.5,150.9 L366,151.2 L366.5,151.5 L366.9,151.7 L367.2,151.9 L367.5,152.1 L367.9,152.3 L368.3,152.5 L368.7,152.7 L369.2,153 L369.8,153.4 L370.6,153.9 L371.4,154.5 L372.5,155.3 L373.7,156.2 L375.1,157.3 L376.5,158.4 L378.1,159.7 L379.8,161 L381.6,162.4 L383.5,163.9 L385.4,165.4 L387.4,166.9 L389.4,168.5 L391.4,170 L393.5,171.6 L395.6,173.2 L397.8,174.8 L400,176.4 L402.2,178 L404.5,179.7 L406.9,181.4 L409.3,183.2 L411.8,185 L414.4,186.8 L417,188.7 L419.7,190.6 L422.4,192.6 L425.2,194.6 L428,196.7 L430.9,198.8 L433.8,201 L436.7,203.2 L439.8,205.4 L442.9,207.7 L446.1,210.1 L449.4,212.5 L452.8,214.9 L456.3,217.4 L460,220 L463.8,222.6 L467.6,225.3 L471.6,228.1 L475.7,230.9 L479.8,233.8 L484.1,236.7 L488.5,239.6 L492.9,242.6 L497.5,245.6 L502.2,248.6 L507.1,251.6 L512,254.6 L517.1,257.6 L522.4,260.7 L527.8,263.8 L533.4,267 L539.1,270.2 L544.9,273.4 L550.8,276.5 L556.6,279.7 L562.5,282.8 L568.4,285.9 L574.2,288.9 L580,291.8 L585.8,294.7 L591.7,297.5 L597.7,300.4 L603.8,303.2 L609.9,306 L615.9,308.8 L621.9,311.4 L627.8,314.1 L633.5,316.6 L639,319.1 L644.3,321.4 L649.3,323.7 L654.2,325.9 L659.1,328.1 L663.9,330.2 L668.6,332.3 L673.1,334.4 L677.5,336.3 L681.6,338.1 L685.4,339.8 L688.9,341.3 L692.1,342.7 L694.8,343.9 L697,344.9" fill="none" stroke="#d42a3a" stroke-width="2" stroke-dasharray="7 7"/>
  </g>
  <g fill="#777777" font-family="DejaVu Sans, Verdana, sans-serif" font-size="9.6"><text x="32.5" y="360.6" text-anchor="end">4G</text><text x="70" y="324.5" text-anchor="end">5G</text><text x="103" y="291.6" text-anchor="end">6G</text><text x="162" y="234.7" text-anchor="end">8G</text><text x="214" y="185.1" text-anchor="end">10G</text><text x="261.3" y="140.8" text-anchor="end">12G</text><text x="697.5" y="308" text-anchor="end">16G</text><text x="179.5" y="234.6">300m</text><text x="411.1" y="140.3">400m</text><text x="489.2" y="196.4">500m</text><text x="559.5" y="238.5">600m</text><text x="654.4" y="285.9">750m</text><text x="720.8" y="366.9">1000m</text><text x="720.8" y="480.4">1500m</text><text x="720.8" y="537.1">2000m</text></g>
</svg>
<svg style="position:absolute;left:0;top:0" width="1000" height="100" viewBox="0 0 1000 100">
  <g fill="none" stroke="#fff" stroke-width="1.8">
    <rect x="397.4" y="38.9" width="16.2" height="8.7" rx="0.8"/>
    <path d="M401 39v4.4M404.3 39v4.4M407.6 39v4.4M410.9 39v4.4" stroke-width="1.5"/>
    <path d="M437.3 43.2L447 37.8M437.3 43.2L447.2 48.7" stroke-width="1.4"/>
  </g>
  <g fill="#fff"><circle cx="447" cy="37.8" r="2.4"/><circle cx="437.2" cy="43.2" r="2.4"/><circle cx="447.2" cy="48.7" r="2.4"/></g>
</svg>
<div class="title">Turn Performance</div>
<div class="modebar"></div>
<svg style="position:absolute;left:784px;top:63px" width="207" height="16" viewBox="784 63 207 16">
  <g fill="#7a7a7a">
    <path d="M793 68.3h3l1-1.9h3.4l1 1.9h3.4v7.2h-11.8z"/>
    <circle cx="798.7" cy="71.6" r="2.7" fill="#131416"/><circle cx="798.7" cy="71.6" r="1.6"/>
  </g>
  <g fill="none" stroke="#7a7a7a">
    <circle cx="822.4" cy="69.4" r="4.2" stroke-width="1.5"/>
    <path d="M825.4 72.6l3.6 3.6" stroke-width="2.2"/>
    <path d="M820.4 68.6h4M820.4 70.6h4" stroke-width="1.1"/>
  </g>
  <g fill="#fff" stroke="#fff">
    <path d="M841.6 64.4v12.6M835.3 70.7h12.6" stroke-width="1.4"/>
    <path d="M841.6 63.8l-2.6 2.8h5.2zM841.6 77.6l-2.6-2.8h5.2zM834.7 70.7l2.8-2.6v5.2zM848.5 70.7l-2.8-2.6v5.2z" stroke="none"/>
  </g>
  <g fill="#7a7a7a">
    <rect x="853.9" y="64.6" width="1.6" height="1.6"/><rect x="856.9" y="64.6" width="1.6" height="1.6"/><rect x="859.9" y="64.6" width="1.6" height="1.6"/><rect x="862.9" y="64.6" width="1.6" height="1.6"/><rect x="865" y="64.6" width="1.6" height="1.6"/>
    <rect x="853.9" y="74.6" width="1.6" height="1.6"/><rect x="856.9" y="74.6" width="1.6" height="1.6"/><rect x="859.9" y="74.6" width="1.6" height="1.6"/><rect x="862.9" y="74.6" width="1.6" height="1.6"/><rect x="865" y="74.6" width="1.6" height="1.6"/>
    <rect x="853.9" y="67.6" width="1.6" height="1.6"/><rect x="853.9" y="71.1" width="1.6" height="1.6"/>
    <rect x="865" y="67.6" width="1.6" height="1.6"/><rect x="865" y="71.1" width="1.6" height="1.6"/>
  </g>
  <g fill="none" stroke="#7a7a7a" stroke-width="1.3">
    <ellipse cx="878.4" cy="69.3" rx="5.2" ry="3.8"/>
    <path d="M875.2 72.2c-0.6 1 -1 2.2 -0.4 3.6"/>
  </g>
  <g fill="#7a7a7a">
    <rect x="896.8" y="65" width="11" height="11"/>
    <rect x="915" y="65" width="11" height="11"/>
  </g>
  <g stroke="#131416" stroke-width="1.6">
    <path d="M899 70.5h6.6M902.3 67.2v6.6"/>
    <path d="M917.2 70.5h6.6"/>
  </g>
  <g fill="none" stroke="#7a7a7a" stroke-width="1.3">
    <path d="M933.4 67.2v-2.6h2.6M942.2 64.6h2.6v2.6M944.8 74v2.6h-2.6M936 76.6h-2.6v-2.6"/>
    <path d="M936 67.2l6.2 6.8M942.2 67.2l-6.2 6.8" stroke-width="1.6"/>
  </g>
  <g fill="#7a7a7a">
    <path d="M957.4 65.4l-5.8 5h1.6v4.4h3v-3h2.4v3h3v-4.4h1.6l-2.2-1.9v-2.6h-1.3v1.5z"/>
  </g>
  <rect x="975.6" y="64.6" width="13.4" height="12.8" fill="#09090a"/>
  <g fill="#fff">
    <rect x="978.2" y="70.4" width="1.3" height="5"/><rect x="980.6" y="69" width="1.3" height="6.4"/><rect x="983" y="70.4" width="1.3" height="5"/><rect x="985.4" y="69" width="1.3" height="6.4"/>
  </g>
  <circle cx="978.8" cy="66.9" r="0.8" fill="#e8323c"/><circle cx="978.8" cy="68.8" r="0.7" fill="#e8323c"/><circle cx="981.2" cy="66.9" r="0.8" fill="#ff9a3a"/><circle cx="983.6" cy="66.9" r="0.8" fill="#8fb4e6"/><circle cx="986" cy="66.9" r="0.8" fill="#8fb4e6"/>
</svg>

<svg class="legend" width="260" height="400" viewBox="740 90 260 400">
  <g font-family="DejaVu Sans, Verdana, sans-serif" font-size="9.7" stroke-width="0.42"><line x1="756" y1="110.8" x2="779" y2="110.8" stroke="#2688d4" stroke-width="2"/><text x="783" y="114.3" fill="#f2f2f2" stroke="#f2f2f2" textLength="153.0" lengthAdjust="spacing">su_30mk2v_venezuela - CLmax</text><circle cx="767.7" cy="132.9" r="5.9" fill="none" stroke="#2688d4" stroke-width="1.8"/><text x="783" y="136.4" fill="#f2f2f2" stroke="#f2f2f2" textLength="197.0" lengthAdjust="spacing">su_30mk2v_venezuela - Min Turn Radius</text><line x1="756" y1="155.0" x2="768" y2="155.0" stroke="#2f77b0" stroke-width="2" opacity="0.5"/><line x1="772.2" y1="155.0" x2="774.2" y2="155.0" stroke="#2f77b0" stroke-width="2" opacity="0.5"/><text x="783" y="158.5" fill="#8b8c8f" stroke="#8b8c8f" textLength="180.8" lengthAdjust="spacing">SEP 300 ft/s - su_30mk2v_venezuela</text><line x1="756" y1="177.1" x2="768" y2="177.1" stroke="#3a78a8" stroke-width="2" opacity="0.5"/><line x1="772.2" y1="177.1" x2="774.2" y2="177.1" stroke="#3a78a8" stroke-width="2" opacity="0.5"/><text x="783" y="180.6" fill="#8b8c8f" stroke="#8b8c8f" textLength="168.5" lengthAdjust="spacing">SEP 0 ft/s - su_30mk2v_venezuela</text><line x1="756" y1="199.2" x2="768" y2="199.2" stroke="#4a7aa0" stroke-width="2" opacity="0.5"/><line x1="772.2" y1="199.2" x2="774.2" y2="199.2" stroke="#4a7aa0" stroke-width="2" opacity="0.5"/><text x="783" y="202.7" fill="#8b8c8f" stroke="#8b8c8f" textLength="184.4" lengthAdjust="spacing">SEP -300 ft/s - su_30mk2v_venezuela</text><line x1="756" y1="221.3" x2="768" y2="221.3" stroke="#5a7c98" stroke-width="2" opacity="0.5"/><line x1="772.2" y1="221.3" x2="774.2" y2="221.3" stroke="#5a7c98" stroke-width="2" opacity="0.5"/><text x="783" y="224.8" fill="#8b8c8f" stroke="#8b8c8f" textLength="184.4" lengthAdjust="spacing">SEP -600 ft/s - su_30mk2v_venezuela</text><line x1="756" y1="243.4" x2="768" y2="243.4" stroke="#6a7e90" stroke-width="2" opacity="0.5"/><line x1="772.2" y1="243.4" x2="774.2" y2="243.4" stroke="#6a7e90" stroke-width="2" opacity="0.5"/><text x="783" y="246.9" fill="#8b8c8f" stroke="#8b8c8f" textLength="190.9" lengthAdjust="spacing">SEP -1200 ft/s - su_30mk2v_venezuela</text><line x1="756" y1="265.5" x2="779" y2="265.5" stroke="#ff8c14" stroke-width="2"/><text x="783" y="269.0" fill="#f2f2f2" stroke="#f2f2f2" textLength="127.6" lengthAdjust="spacing">mig_29smt_9_19 - CLmax</text><circle cx="767.7" cy="287.6" r="5.9" fill="none" stroke="#ff8c14" stroke-width="1.8"/><text x="783" y="291.1" fill="#f2f2f2" stroke="#f2f2f2" textLength="171.7" lengthAdjust="spacing">mig_29smt_9_19 - Min Turn Radius</text><line x1="756" y1="309.7" x2="768" y2="309.7" stroke="#e0852a" stroke-width="2" opacity="0.5"/><line x1="772.2" y1="309.7" x2="774.2" y2="309.7" stroke="#e0852a" stroke-width="2" opacity="0.5"/><text x="783" y="313.2" fill="#8b8c8f" stroke="#8b8c8f" textLength="155.2" lengthAdjust="spacing">SEP 300 ft/s - mig_29smt_9_19</text><line x1="756" y1="331.8" x2="768" y2="331.8" stroke="#d08838" stroke-width="2" opacity="0.5"/><line x1="772.2" y1="331.8" x2="774.2" y2="331.8" stroke="#d08838" stroke-width="2" opacity="0.5"/><text x="783" y="335.3" fill="#8b8c8f" stroke="#8b8c8f" textLength="143.4" lengthAdjust="spacing">SEP 0 ft/s - mig_29smt_9_19</text><line x1="756" y1="353.9" x2="768" y2="353.9" stroke="#c08a48" stroke-width="2" opacity="0.5"/><line x1="772.2" y1="353.9" x2="774.2" y2="353.9" stroke="#c08a48" stroke-width="2" opacity="0.5"/><text x="783" y="357.4" fill="#8b8c8f" stroke="#8b8c8f" textLength="159.3" lengthAdjust="spacing">SEP -300 ft/s - mig_29smt_9_19</text><line x1="756" y1="376.0" x2="768" y2="376.0" stroke="#b08c58" stroke-width="2" opacity="0.5"/><line x1="772.2" y1="376.0" x2="774.2" y2="376.0" stroke="#b08c58" stroke-width="2" opacity="0.5"/><text x="783" y="379.5" fill="#8b8c8f" stroke="#8b8c8f" textLength="159.3" lengthAdjust="spacing">SEP -600 ft/s - mig_29smt_9_19</text><line x1="756" y1="398.1" x2="768" y2="398.1" stroke="#a08e68" stroke-width="2" opacity="0.5"/><line x1="772.2" y1="398.1" x2="774.2" y2="398.1" stroke="#a08e68" stroke-width="2" opacity="0.5"/><text x="783" y="401.6" fill="#8b8c8f" stroke="#8b8c8f" textLength="165.5" lengthAdjust="spacing">SEP -1200 ft/s - mig_29smt_9_19</text><line x1="756" y1="420.2" x2="779" y2="420.2" stroke="#c0202c" stroke-width="2" opacity="0.5"/><text x="783" y="423.7" fill="#8b8c8f" stroke="#8b8c8f" textLength="140.8" lengthAdjust="spacing">su_30mk2v_venezuela - VNE</text><line x1="756" y1="442.3" x2="779" y2="442.3" stroke="#c0202c" stroke-width="2" opacity="0.5"/><text x="783" y="445.8" fill="#8b8c8f" stroke="#8b8c8f" textLength="115.7" lengthAdjust="spacing">mig_29smt_9_19 - VNE</text><line x1="756.3" y1="464.4" x2="777" y2="464.4" stroke="#ff8c14" stroke-width="2.1" stroke-dasharray="2.2 2.3"/><text x="783" y="467.9" fill="#f2f2f2" stroke="#f2f2f2" textLength="195.8" lengthAdjust="spacing">Max sustainable rate on ace crew (7.5G)</text></g>
</svg>
<div class="tip"></div>
<svg style="position:absolute;left:339px;top:158px" width="7" height="11"><path d="M7 0L1.5 5.5L7 11Z" fill="#ff7f0e"/></svg>
<div class="tiptext">mig_29smt_9_19 - Structural Limit, Turn Rate: 33.4°/s @ 793.00 km/h, G: 13.12</div>
<svg style="position:absolute;left:330px;top:156px" width="24" height="24" viewBox="330 156 24 24">
  <g stroke="#000" stroke-width="1.1" stroke-linejoin="round" fill="#000">
    <path d="M341.6 159.6L344.9 163.5H342.5V167H346V164.6L349.8 167.8L346 171V168.6H342.5V172.1H344.9L341.6 175.9L338.3 172.1H340.7V168.6H337.3V171L333.5 167.8L337.3 164.6V167H340.7V163.5H338.3Z"/>
  </g>
  <g fill="#fff">
    <path d="M341.6 159.6L344.9 163.5H342.5V167H346V164.6L349.8 167.8L346 171V168.6H342.5V172.1H344.9L341.6 175.9L338.3 172.1H340.7V168.6H337.3V171L333.5 167.8L337.3 164.6V167H340.7V163.5H338.3Z"/>
  </g>
  <path d="M341.6 162.6V173M336.4 167.8H346.8" stroke="#8c8c8c" stroke-width="0.9"/>
</svg>
</body></html>
